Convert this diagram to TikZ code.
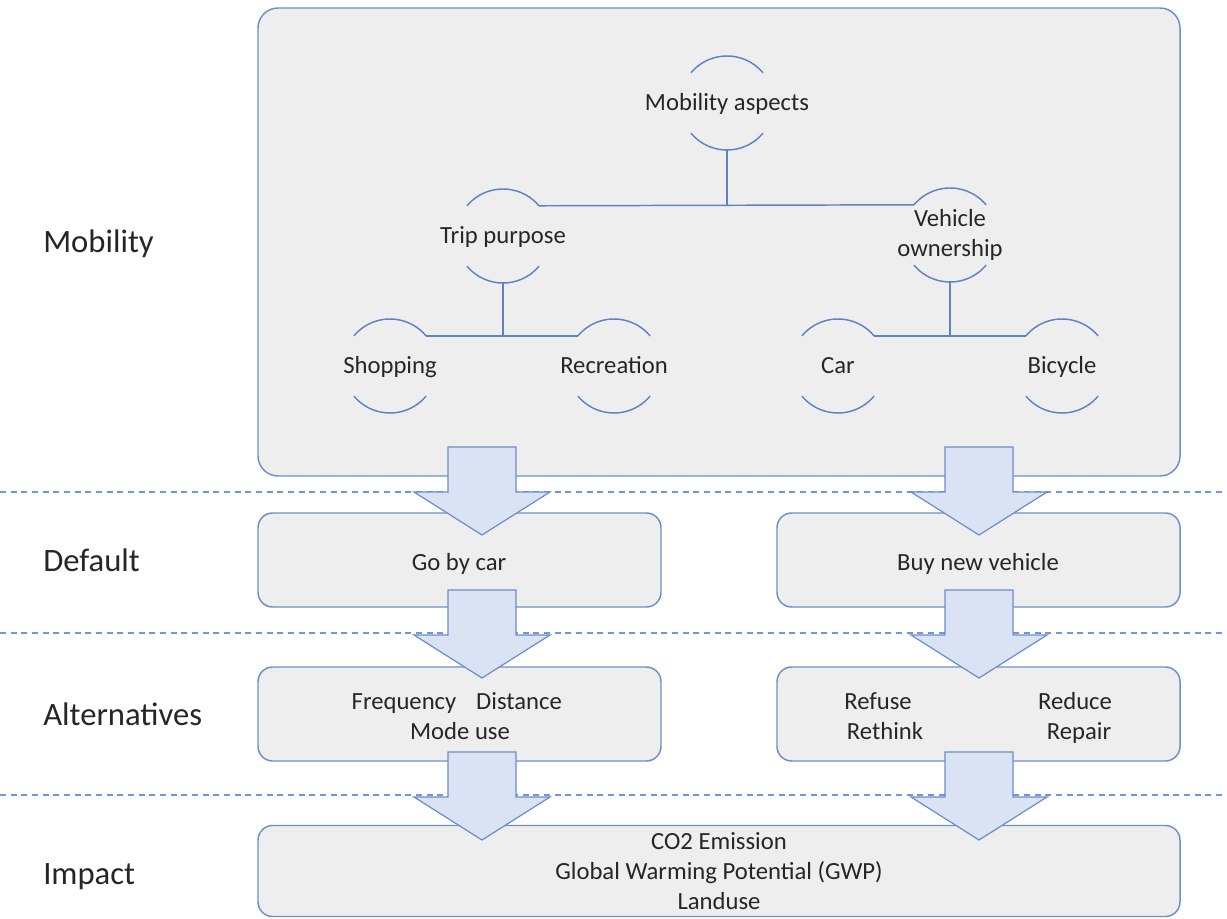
\documentclass[tikz,border=0pt]{standalone}
\usepackage{fontspec}
\setmainfont{Carlito}
\begin{document}
\begin{tikzpicture}[x=0.75pt,y=-0.75pt,
  every node/.style={text=txtgray},
  panel/.style={draw=boxblue,fill=boxgray,line width=1.1pt,inner sep=0pt,outer sep=0pt,rounded corners=11pt,font=\fontsize{18.5}{22.5}\selectfont,align=center},
  rowlabel/.style={anchor=west,inner sep=0pt,text height=20pt,text depth=5pt,font=\fontsize{24.5}{29}\selectfont},
  inner/.style={inner sep=0pt,font=\fontsize{18.5}{22.5}\selectfont,align=center},
  one/.style={text height=16pt,text depth=4pt},
  arcline/.style={draw=treeblue,line width=1.1pt},
  tree/.style={draw=treeblue,line width=1.1pt},
  sep/.style={draw=sepblue,line width=1pt,dash pattern=on 4.5pt off 3.5pt},
  arrowstyle/.style={draw=arrblue,fill=arrfill,line width=0.9pt,line join=miter},
  blockarrow/.pic={\path[arrowstyle] (-34,0) -- (34,0) -- (34,45) -- (68,45) -- (0,88) -- (-68,45) -- (-34,45) -- cycle;}
]
\definecolor{txtgray}{HTML}{262626}
\definecolor{boxblue}{HTML}{6F8FCB}
\definecolor{boxgray}{HTML}{EEEEEE}
\definecolor{treeblue}{HTML}{5F82C2}
\definecolor{sepblue}{HTML}{7297D4}
\definecolor{arrblue}{HTML}{6A8CCB}
\definecolor{arrfill}{HTML}{DAE3F3}
\useasboundingbox[fill=white] (0,0) rectangle (1227,919);

% separators
\draw[sep] (0,492) coordinate (s1a) -- (1227,492) coordinate (s1b);
\draw[sep] (0,633) coordinate (s2a) -- (1227,633) coordinate (s2b);
\draw[sep] (0,795) coordinate (s3a) -- (1227,795) coordinate (s3b);

% row labels
\node[rowlabel] (lmob) at (43,243) {Mobility};
\node[rowlabel] (ldef) at (43,561) {Default};
\node[rowlabel] (lalt) at (43,715) {Alternatives};
\node[rowlabel] (limp) at (43,874) {Impact};

% boxes
\node[panel,rounded corners=15pt,minimum width=691.5pt,minimum height=351pt] (mob) at (719,242) {};
\node[panel,minimum width=302.25pt,minimum height=70.5pt] (defl) at (459.5,560) {};
\node[panel,minimum width=302.25pt,minimum height=70.5pt] (defr) at (978.5,560) {};
\node[panel,minimum width=302.25pt,minimum height=70.5pt] (altl) at (459.5,714) {};
\node[panel,minimum width=302.25pt,minimum height=70.5pt] (altr) at (978.5,714) {};
\node[panel,minimum width=691.5pt,minimum height=68.25pt] (imp) at (719,871) {CO2 Emission\\Global Warming Potential (GWP)\\Landuse};

% default texts
\node[inner,one] (gbc) at (459,562) {Go by car};
\node[inner,one] (bnv) at (978,562) {Buy new vehicle};

% alternatives texts
\node[inner,one] (freq) at (404,701) {Frequency};
\node[inner,one] (dist) at (519,701) {Distance};
\node[inner,one] (mode) at (460,731) {Mode use};
\node[inner,one] (refu) at (878,701) {Refuse};
\node[inner,one] (reth) at (885,731) {Rethink};
\node[inner,one] (redu) at (1075,701) {Reduce};
\node[inner,one] (repa) at (1079,731) {Repair};

% tree nodes
\node[inner,one] (ma) at (727,103) {Mobility aspects};
\node[inner,one] (tp) at (503,236) {Trip purpose};
\node[inner] (vo) at (950,235) {Vehicle\\ownership};
\node[inner,one] (sh) at (390,366) {Shopping};
\node[inner,one] (re) at (614,366) {Recreation};
\node[inner,one] (car) at (838,366) {Car};
\node[inner,one] (bi) at (1062,366) {Bicycle};

\foreach \n in {ma,tp,vo,sh,re,car,bi}{
  \draw[arcline] ([shift={(220:47)}]\n.center) arc[start angle=220,end angle=320,radius=47];
  \draw[arcline] ([shift={(40:47)}]\n.center) arc[start angle=40,end angle=140,radius=47];
}

% tree connectors
\draw[tree] ([shift={(320:47)}]tp.center) -- ([shift={(220:47)}]vo.center);
\draw[tree] ([shift={(0,47)}]ma.center) -- ++(0,55);
\draw[tree] ([shift={(320:47)}]sh.center) -- ([shift={(220:47)}]re.center);
\draw[tree] ([shift={(0,47)}]tp.center) -- ++(0,54);
\draw[tree] ([shift={(320:47)}]car.center) -- ([shift={(220:47)}]bi.center);
\draw[tree] ([shift={(0,47)}]vo.center) -- ++(0,54);

% block arrows
\pic at (482,447) {blockarrow};
\pic at (979,447) {blockarrow};
\pic at (482,590) {blockarrow};
\pic at (979,590) {blockarrow};
\pic at (482,752) {blockarrow};
\pic at (979,752) {blockarrow};
\end{tikzpicture}
\end{document}
